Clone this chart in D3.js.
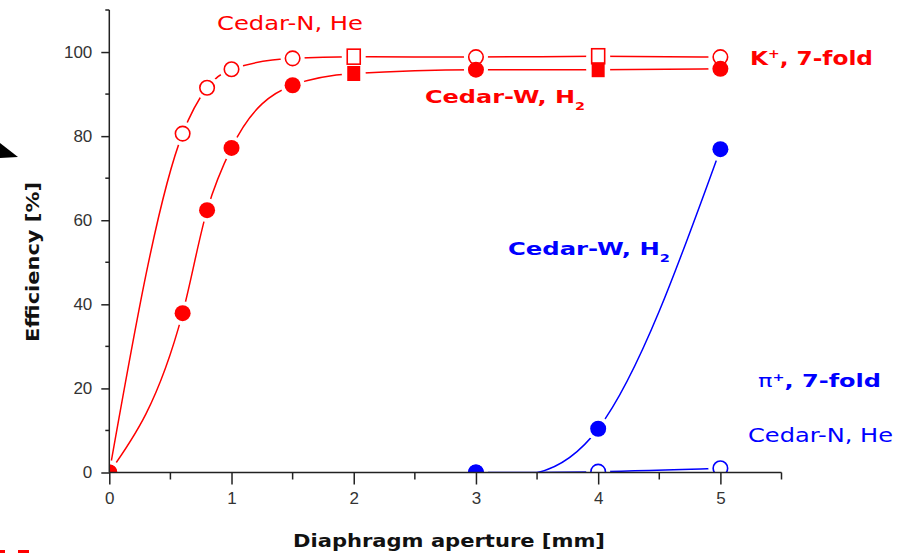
<!DOCTYPE html>
<html>
<head>
<meta charset="utf-8">
<script src="https://cdn.jsdelivr.net/npm/d3@7"></script>
<style>
  html, body { margin: 0; padding: 0; background: #fff; }
  svg { display: block; }
  .lbl { font-family: "DejaVu Sans", sans-serif; }
</style>
</head>
<body>
<svg id="chart" width="910" height="553"></svg>
<script>
// Kaon efficiency (7-fold coincidence) vs diaphragm aperture
const kAperture = [0, 0.6, 0.8, 1.0, 1.5, 2, 3, 4, 5];
const kCedarN   = [0, 80.6, 91.5, 95.9, 98.5, 98.9, 98.8, 99.0, 98.8];
const kCedarW   = [0, 37.9, 62.4, 77.2, 92.1, 94.9, 95.8, 95.8, 96.0];
const kShapes   = ["circle", "circle", "circle", "circle", "circle", "square", "circle", "square", "circle"];

// Pion efficiency (7-fold coincidence) vs diaphragm aperture
const piAperture = [3, 4, 5];
const piCedarW   = [0, 10.4, 76.9];
const piCedarN   = [0, 0.2, 1.0];
const piShapes   = ["circle", "circle", "circle"];

const xTicks = [0, 1, 2, 3, 4, 5];
const xMinorTicks = [0.5, 1.5, 2.5, 3.5, 4.5, 5.5];
const yTicks = [0, 20, 40, 60, 80, 100];
const yMinorTicks = [10, 30, 50, 70, 90, 110];

const RED = "#ff0000", BLUE = "#0000ff";

const svg = d3.select("#chart");
const x = d3.scaleLinear().domain([0, 5.5]).range([109.3, 781.5]);
const y = d3.scaleLinear().domain([0, 110]).range([472.5, 10]);

svg.append("clipPath").attr("id", "plot")
  .append("rect")
  .attr("x", x(0)).attr("y", y(110))
  .attr("width", x(5.5) - x(0)).attr("height", y(0) - y(110));

const series = [
  { xs: kAperture,  ys: kCedarN,  shapes: kShapes,  color: RED,  open: true,  curve: d3.curveMonotoneX },
  { xs: kAperture,  ys: kCedarW,  shapes: kShapes,  color: RED,  open: false, curve: d3.curveMonotoneX },
  { xs: piAperture, ys: piCedarN, shapes: piShapes, color: BLUE, open: true,  curve: d3.curveNatural },
  { xs: piAperture, ys: piCedarW, shapes: piShapes, color: BLUE, open: false, curve: d3.curveNatural }
];

const plot = svg.append("g").attr("clip-path", "url(#plot)");

// spline curves
series.forEach(s => {
  const line = d3.line()
    .x(d => x(d[0]))
    .y(d => y(d[1]))
    .curve(s.curve);
  plot.append("path")
    .datum(s.xs.map((v, i) => [v, s.ys[i]]))
    .attr("d", line)
    .attr("fill", "none")
    .attr("stroke", s.color)
    .attr("stroke-width", 1.5);
});

// white gaps around the symbols
const R = 8;
series.forEach(s => {
  plot.selectAll(null)
    .data(s.xs.map((v, i) => [v, s.ys[i], s.shapes[i]]))
    .join("circle")
    .attr("cx", d => x(d[0]))
    .attr("cy", d => y(d[1]))
    .attr("r", R + 4)
    .attr("fill", "#fff");
});

// symbols
function drawSymbols(s) {
  const pts = s.xs.map((v, i) => [v, s.ys[i], s.shapes[i]]);
  const g = plot.append("g");
  g.selectAll("circle")
    .data(pts.filter(d => d[2] === "circle"))
    .join("circle")
    .attr("cx", d => x(d[0]))
    .attr("cy", d => y(d[1]))
    .attr("r", s.open ? R - 0.75 : R)
    .attr("fill", s.open ? "#fff" : s.color)
    .attr("stroke", s.color)
    .attr("stroke-width", s.open ? 1.6 : 0);
  g.selectAll("rect")
    .data(pts.filter(d => d[2] === "square"))
    .join("rect")
    .attr("x", d => x(d[0]) - 6.5)
    .attr("y", d => y(d[1]) - 7.5)
    .attr("width", 13)
    .attr("height", 15)
    .attr("fill", s.open ? "#fff" : s.color)
    .attr("stroke", s.color)
    .attr("stroke-width", s.open ? 1.6 : 0);
}
series.forEach(drawSymbols);

// axes
const axisColor = "#222";
const tickFont = "Liberation Sans, Arial, sans-serif";
const xAxis = svg.append("g").attr("transform", `translate(0,${y(0)})`);
xAxis.append("line").attr("x1", x(0)).attr("x2", x(5.5)).attr("stroke", axisColor).attr("stroke-width", 1.5);
xAxis.call(d3.axisBottom(x).tickValues(xTicks).tickSize(12).tickFormat(d3.format("d")))
  .call(g => g.select(".domain").remove())
  .call(g => g.selectAll(".tick line").attr("stroke", axisColor).attr("stroke-width", 1.5))
  .call(g => g.selectAll(".tick text")
    .attr("fill", "#333").attr("font-family", tickFont)
    .attr("font-size", 17).attr("dy", "0.71em").attr("y", 19));
xAxis.selectAll(".minor").data(xMinorTicks).join("line")
  .attr("x1", d => x(d)).attr("x2", d => x(d)).attr("y1", 0).attr("y2", 7)
  .attr("stroke", axisColor).attr("stroke-width", 1.5);

const yAxis = svg.append("g").attr("transform", `translate(${x(0)},0)`);
yAxis.append("line").attr("y1", y(0)).attr("y2", y(110)).attr("stroke", axisColor).attr("stroke-width", 1.5);
yAxis.call(d3.axisLeft(y).tickValues(yTicks).tickSize(8).tickFormat(d3.format("d")))
  .call(g => g.select(".domain").remove())
  .call(g => g.selectAll(".tick line").attr("stroke", axisColor).attr("stroke-width", 1.5))
  .call(g => g.selectAll(".tick text")
    .attr("fill", "#333").attr("font-family", tickFont)
    .attr("font-size", 17).attr("x", -17));
yAxis.selectAll(".minor").data(yMinorTicks).join("line")
  .attr("x1", -4).attr("x2", 0).attr("y1", d => y(d)).attr("y2", d => y(d))
  .attr("stroke", axisColor).attr("stroke-width", 1.5);

// axis titles
svg.append("text").attr("class", "lbl")
  .attr("transform", "translate(39,262) rotate(-90)")
  .attr("text-anchor", "middle")
  .attr("font-size", 17).attr("font-weight", "bold").attr("fill", "#111")
  .attr("textLength", 160).attr("lengthAdjust", "spacingAndGlyphs")
  .text("Efficiency [%]");
svg.append("text").attr("class", "lbl")
  .attr("x", 449).attr("y", 547)
  .attr("text-anchor", "middle")
  .attr("font-size", 18).attr("font-weight", "bold").attr("fill", "#111")
  .attr("textLength", 312).attr("lengthAdjust", "spacingAndGlyphs")
  .text("Diaphragm aperture [mm]");

// series annotations
function note(xp, yp, width, size, color, parts) {
  const t = svg.append("text").attr("class", "lbl")
    .attr("x", xp).attr("y", yp)
    .attr("font-size", size).attr("fill", color)
    .attr("textLength", width).attr("lengthAdjust", "spacingAndGlyphs");
  parts.forEach(p => {
    const ts = t.append("tspan").text(p.t).attr("font-weight", p.b ? "bold" : "normal");
    if (p.sup) ts.attr("baseline-shift", "super").attr("font-size", size * 0.6);
    if (p.sub) ts.attr("baseline-shift", "sub").attr("font-size", size * 0.6);
  });
}
note(217, 30, 146, 19, RED, [{ t: "Cedar-N, He" }]);
note(750, 65, 123, 19, RED, [{ t: "K", b: 1 }, { t: "+", b: 1, sup: 1 }, { t: ", 7-fold", b: 1 }]);
note(425, 103, 160, 18, RED, [{ t: "Cedar-W, H", b: 1 }, { t: "2", b: 1, sub: 1 }]);
note(508, 255, 162, 18, BLUE, [{ t: "Cedar-W, H", b: 1 }, { t: "2", b: 1, sub: 1 }]);
note(758, 387, 123, 18, BLUE, [{ t: "\u03c0" }, { t: "+", b: 1, sup: 1 }, { t: ", 7-fold", b: 1 }]);
note(748, 442, 145, 19, BLUE, [{ t: "Cedar-N, He" }]);

// stray marks at the page edges
svg.append("path").attr("d", "M0,143 L18,157 L0,158 Z").attr("fill", "#000");
svg.append("rect").attr("x", 0).attr("y", 550).attr("width", 5).attr("height", 3).attr("fill", RED);
svg.append("rect").attr("x", 18).attr("y", 550).attr("width", 11).attr("height", 3).attr("fill", RED);
</script>
</body>
</html>
